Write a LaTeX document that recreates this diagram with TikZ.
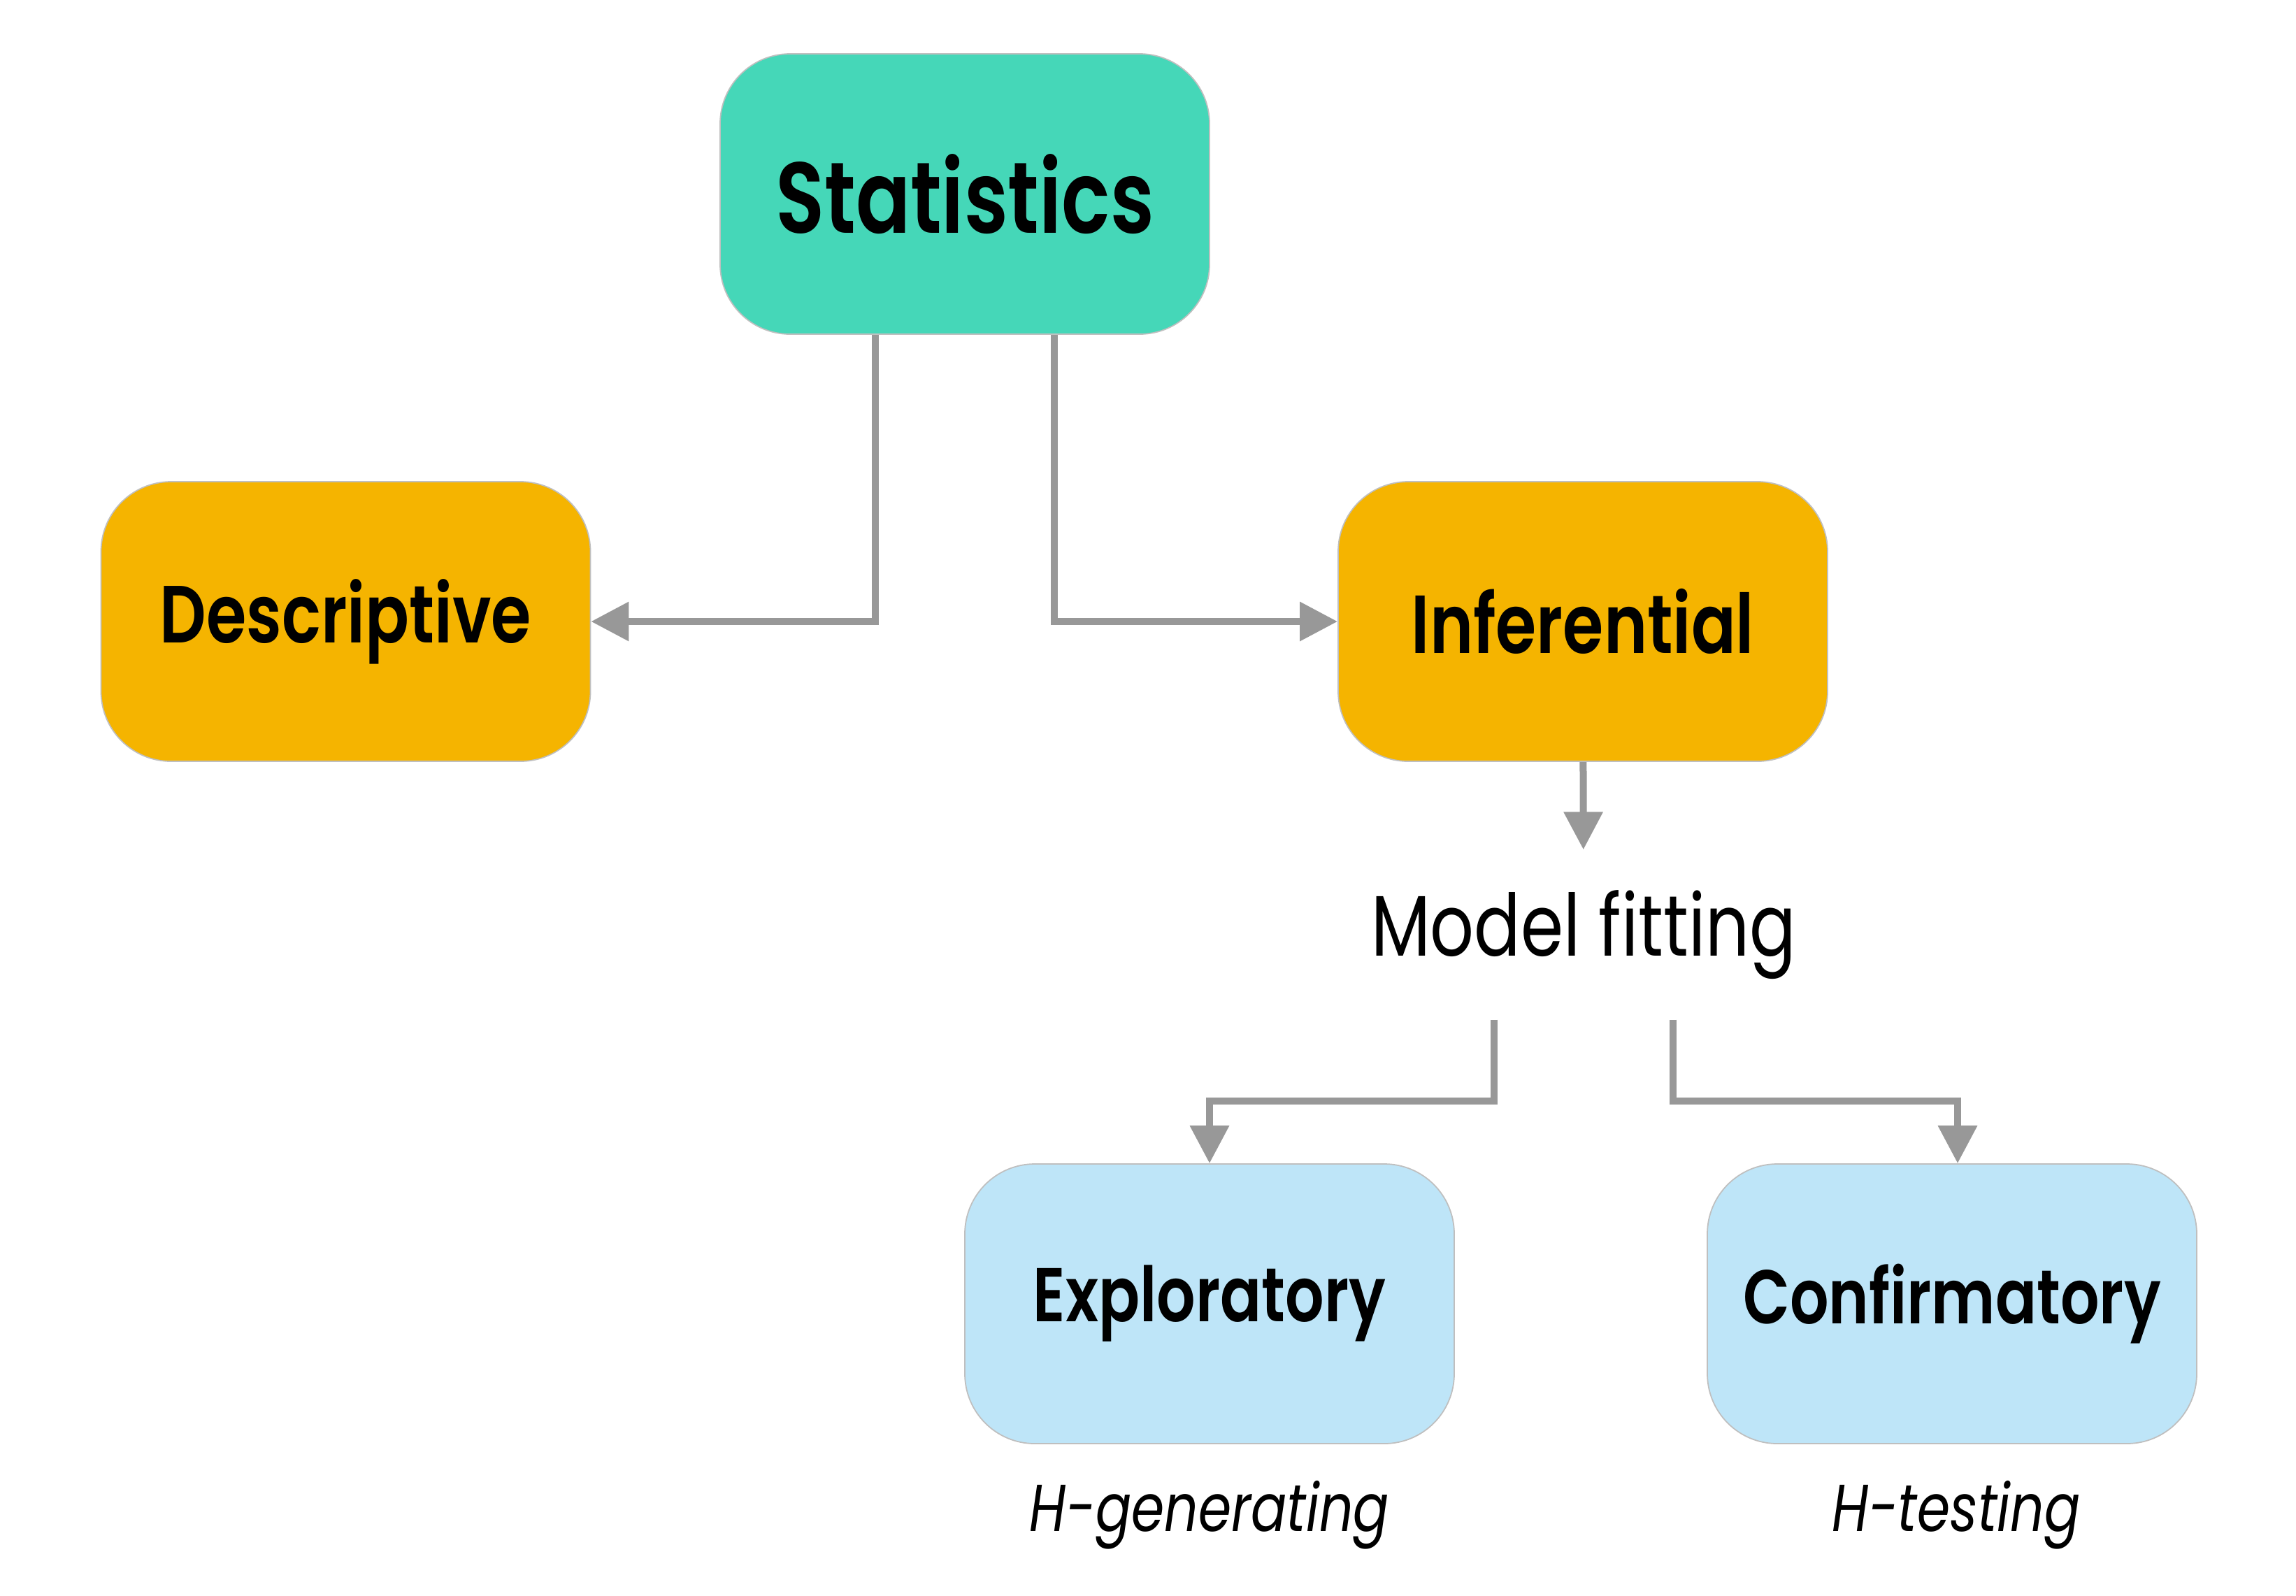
\documentclass[tikz,border=0pt]{standalone}
\usepackage{fontspec}
\setmainfont{Poppins}[FakeStretch=0.8, BoldFont={Poppins SemiBold}]
\usetikzlibrary{arrows.meta}

\definecolor{statgreen}{HTML}{45D7B8}
\definecolor{boxorange}{HTML}{F5B400}
\definecolor{boxblue}{HTML}{BEE5F8}
\definecolor{linkgray}{HTML}{989898}

\begin{document}
\begin{tikzpicture}[
    box/.style={rounded corners=1cm, minimum width=7cm, minimum height=4cm,
        draw=black!25, line width=0.5pt, inner sep=0pt, text=black},
    link/.style={draw=linkgray, line width=0.1cm},
    tip/.style={-{Triangle[length=0.54cm, width=0.54cm]}}
]
    % Picture size
    \useasboundingbox (0,0) rectangle (32.84,-22.82);
    \def\split{1.28} % offset of the two branches from the centre

    % Boxes
    \node[box, fill=statgreen, minimum height=4.01cm, font=\fontsize{41}{48}\selectfont\bfseries]
        (stats) at (13.80,-2.775) {Statistics};
    \node[box, fill=boxorange, font=\fontsize{33}{40}\selectfont\bfseries]
        (desc) at (4.945,-8.89) {Descriptive};
    \node[box, fill=boxorange, font=\fontsize{33.5}{40}\selectfont\bfseries]
        (infer) at (22.64,-8.89) {Inferential};
    \node[minimum height=2.42cm, inner sep=0pt, font=\fontsize{35}{42}\selectfont]
        (fit) at (22.65,-13.37) {Model fitting};
    \node[box, fill=boxblue, font=\fontsize{31}{36}\selectfont\bfseries]
        (explo) at (17.30,-18.65) {Exploratory};
    \node[box, fill=boxblue, font=\fontsize{31}{36}\selectfont\bfseries]
        (confirm) at (27.92,-18.65) {Confirmatory};

    % Labels under the bottom boxes
    \node[font=\fontsize{27}{32}\selectfont\itshape] (hgen) at (17.30,-21.67) {H-generating};
    \node[font=\fontsize{27}{32}\selectfont\itshape] (htest) at (27.98,-21.67) {H-testing};

    % Connectors
    \draw[link, tip] ([xshift=-\split cm]stats.south) |- (desc);
    \draw[link, tip] ([xshift=\split cm]stats.south) |- (infer);
    \draw[link, tip] (infer) -- (fit);
    \draw[link, tip] ([xshift=-\split cm]fit.south) -- ++(0,-1.16) -| (explo);
    \draw[link, tip] ([xshift=\split cm]fit.south) -- ++(0,-1.16) -| ([xshift=0.08cm]confirm.north);
\end{tikzpicture}
\end{document}
